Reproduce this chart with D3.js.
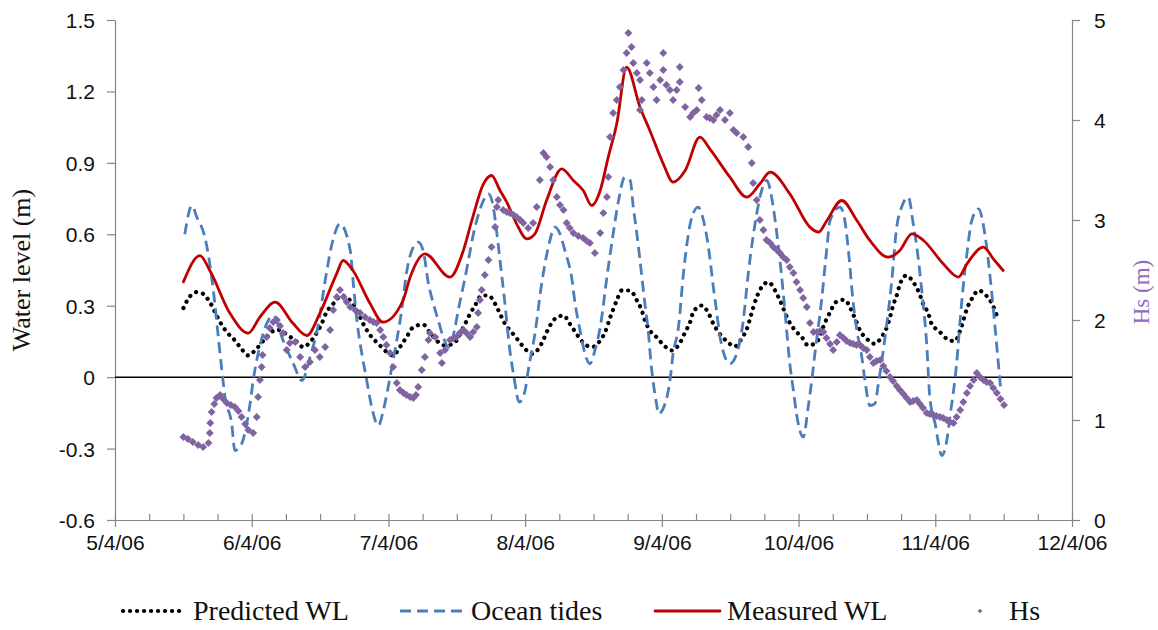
<!DOCTYPE html>
<html lang="en">
<head>
<meta charset="UTF-8">
<title>Water level and Hs</title>
<script src="https://d3js.org/d3.v7.min.js"></script>
<style>
  body { margin: 0; background: #fff; }
  svg { display: block; }
  .axis text { font-family: "Liberation Sans", Arial, sans-serif; font-size: 21px; fill: #111; }
  .axis path, .axis line { stroke: #868686; stroke-width: 1.2; }
  .serif { font-family: "Liberation Serif", "Times New Roman", serif; }
</style>
</head>
<body>
<script>
// time axis runs from 5/4/06 to 12/4/06, data given as days after 5/4/06
const xTickLabels = ["5/4/06", "6/4/06", "7/4/06", "8/4/06", "9/4/06", "10/4/06", "11/4/06", "12/4/06"];
const wlTicks = [-0.6, -0.3, 0, 0.3, 0.6, 0.9, 1.2, 1.5];
const hsTicks = [0, 1, 2, 3, 4, 5];

const predictedDay = [15.3, 16.4, 18.3, 19.7, 21.2, 23.5, 25.0, 26.5, 28.0, 29.8, 31.3, 33.5, 36.2, 37.6, 39.1, 40.6, 42.1, 43.6, 46.2, 47.3, 48.8, 50.7, 52.2, 53.7, 55.9, 57.4, 58.9, 60.8, 62.2, 63.7, 65.2, 66.7, 68.9, 70.4, 71.9, 73.8, 75.6, 78.3, 79.4, 80.5, 82.0, 83.5, 85.0, 86.1, 87.2, 88.7, 90.2, 91.7, 93.2, 94.7, 95.9, 96.9, 98.4, 100.3, 101.7, 103.2, 104.6, 106.6, 108.5, 109.6, 110.5, 112.2, 113.3, 115.2, 116.7, 117.8, 118.5, 119.6, 121.1, 123.0, 124.5, 126.3, 127.5, 128.6, 129.3, 131.2, 132.7, 133.8, 135.1, 136.8, 138.6, 140.1, 141.3, 142.0, 142.7, 143.5, 144.6, 146.1, 147.6, 148.7, 150.6, 152.1, 153.6, 155.0, 156.9, 158.8, 159.9, 161.2, 163.2, 164.5, 165.5, 166.6, 168.1, 169.9, 171.4, 172.6, 173.3, 174.0, 174.8, 175.5, 177.0, 178.5, 179.9, 180.7, 181.9, 182.6, 184.3, 186.0, 187.8, 189.0, 189.7, 190.5, 191.6, 193.1, 194.8, 196.3, 197.2];
const predictedWL = [0.29, 0.33, 0.357, 0.35, 0.315, 0.231, 0.189, 0.161, 0.126, 0.091, 0.112, 0.16, 0.2, 0.19, 0.17, 0.15, 0.126, 0.147, 0.224, 0.273, 0.308, 0.343, 0.329, 0.294, 0.21, 0.168, 0.14, 0.105, 0.091, 0.126, 0.168, 0.21, 0.221, 0.189, 0.154, 0.133, 0.14, 0.224, 0.266, 0.301, 0.343, 0.343, 0.308, 0.266, 0.224, 0.189, 0.154, 0.119, 0.098, 0.119, 0.161, 0.203, 0.245, 0.259, 0.224, 0.182, 0.147, 0.126, 0.154, 0.189, 0.238, 0.322, 0.364, 0.364, 0.322, 0.28, 0.238, 0.196, 0.168, 0.129, 0.112, 0.143, 0.189, 0.231, 0.273, 0.301, 0.269, 0.224, 0.185, 0.151, 0.129, 0.161, 0.203, 0.245, 0.291, 0.336, 0.378, 0.399, 0.364, 0.322, 0.238, 0.196, 0.168, 0.133, 0.147, 0.231, 0.273, 0.315, 0.325, 0.287, 0.245, 0.196, 0.161, 0.14, 0.168, 0.21, 0.252, 0.301, 0.343, 0.389, 0.427, 0.399, 0.35, 0.308, 0.266, 0.224, 0.193, 0.161, 0.151, 0.196, 0.238, 0.287, 0.329, 0.364, 0.343, 0.301, 0.259];

const tidesDay = [15.6, 17.2, 18.3, 20.1, 22.0, 23.1, 23.9, 24.6, 26.1, 26.8, 28.3, 30.2, 30.9, 32.0, 33.9, 35.4, 37.6, 39.9, 41.8, 43.6, 45.5, 47.0, 48.8, 50.3, 52.6, 53.3, 54.1, 55.2, 56.3, 57.4, 58.9, 60.0, 60.8, 61.9, 63.0, 64.1, 65.2, 66.7, 67.8, 68.9, 70.1, 71.2, 72.3, 73.4, 74.6, 77.2, 78.3, 80.5, 82.4, 83.5, 84.6, 85.4, 86.1, 87.2, 88.3, 89.1, 90.4, 91.7, 92.4, 93.9, 95.4, 96.9, 98.4, 99.5, 100.6, 102.1, 102.9, 104.0, 105.1, 106.2, 107.3, 108.5, 110.0, 111.4, 112.6, 114.0, 115.2, 115.9, 116.7, 117.4, 118.5, 119.3, 119.8, 120.4, 121.1, 121.5, 123.0, 124.1, 124.8, 126.0, 127.1, 129.0, 130.4, 131.6, 132.7, 133.8, 134.6, 135.3, 137.5, 139.0, 140.5, 141.6, 143.5, 144.6, 145.7, 147.2, 148.0, 148.7, 149.8, 150.9, 151.7, 152.4, 153.9, 155.0, 155.8, 156.5, 158.0, 159.2, 159.9, 162.1, 163.2, 164.0, 165.1, 165.9, 167.0, 167.7, 168.8, 169.9, 170.7, 172.2, 173.7, 174.8, 175.9, 177.4, 178.5, 179.3, 180.4, 181.5, 182.2, 183.4, 184.9, 186.0, 186.7, 188.2, 189.3, 190.5, 191.6, 193.1, 194.5, 196.0, 197.2, 198.1];
const tidesWL = [0.60, 0.72, 0.672, 0.588, 0.364, 0.168, 0.028, -0.084, -0.196, -0.308, -0.28, -0.112, -0.014, 0.098, 0.224, 0.259, 0.154, 0.056, -0.014, 0.084, 0.224, 0.406, 0.581, 0.644, 0.532, 0.392, 0.238, 0.098, -0.014, -0.126, -0.203, -0.14, -0.07, 0.042, 0.154, 0.28, 0.44, 0.546, 0.567, 0.532, 0.392, 0.308, 0.238, 0.168, 0.125, 0.322, 0.42, 0.63, 0.742, 0.77, 0.714, 0.602, 0.49, 0.308, 0.112, 0.014, -0.105, -0.056, 0.028, 0.182, 0.392, 0.546, 0.63, 0.602, 0.532, 0.42, 0.308, 0.196, 0.098, 0.056, 0.112, 0.21, 0.42, 0.602, 0.742, 0.84, 0.826, 0.714, 0.602, 0.49, 0.308, 0.182, 0.07, -0.028, -0.112, -0.154, -0.112, -0.014, 0.098, 0.21, 0.434, 0.672, 0.714, 0.658, 0.546, 0.378, 0.266, 0.168, 0.056, 0.098, 0.238, 0.434, 0.686, 0.784, 0.826, 0.714, 0.602, 0.49, 0.28, 0.056, -0.056, -0.154, -0.252, -0.126, -0.014, 0.098, 0.322, 0.546, 0.658, 0.714, 0.658, 0.532, 0.308, 0.196, 0.084, -0.014, -0.119, -0.112, -0.028, 0.168, 0.406, 0.63, 0.714, 0.756, 0.644, 0.546, 0.364, 0.14, -0.084, -0.196, -0.329, -0.266, -0.168, 0.056, 0.308, 0.518, 0.658, 0.707, 0.602, 0.364, 0.126, -0.06];

const measuredDay = [15.3, 19.0, 21.2, 25.7, 29.8, 32.4, 35.8, 39.8, 42.9, 45.8, 49.6, 51.0, 53.2, 57.0, 59.9, 64.4, 66.0, 69.3, 74.9, 77.9, 79.8, 82.4, 84.2, 86.1, 87.6, 89.8, 92.1, 93.9, 96.5, 99.9, 102.5, 104.7, 106.6, 108.5, 110.3, 112.2, 114.4, 117.4, 119.6, 122.6, 124.8, 127.5, 130.8, 133.0, 137.5, 141.3, 144.2, 146.5, 150.9, 155.4, 157.3, 159.2, 162.5, 165.9, 168.8, 172.9, 175.5, 178.2, 180.8, 185.2, 188.6, 190.5, 194.2, 196.4, 198.6];
const measuredWL = [0.40, 0.51, 0.448, 0.268, 0.185, 0.252, 0.315, 0.226, 0.175, 0.268, 0.436, 0.49, 0.448, 0.31, 0.231, 0.322, 0.42, 0.518, 0.42, 0.532, 0.658, 0.812, 0.847, 0.784, 0.735, 0.644, 0.581, 0.602, 0.742, 0.875, 0.826, 0.784, 0.721, 0.784, 0.924, 1.064, 1.302, 1.134, 1.036, 0.896, 0.819, 0.868, 1.008, 0.959, 0.84, 0.756, 0.812, 0.861, 0.77, 0.63, 0.609, 0.658, 0.742, 0.658, 0.574, 0.504, 0.532, 0.602, 0.574, 0.476, 0.42, 0.476, 0.546, 0.497, 0.448];

const hsDay = [15.3, 16.3, 17.4, 18.6, 19.7, 20.9, 21.2, 21.3, 21.6, 22.2, 22.7, 23.5, 24.2, 25.0, 25.9, 26.8, 27.6, 28.3, 29.1, 29.8, 30.9, 31.7, 32.0, 32.4, 32.8, 33.0, 33.9, 34.6, 35.4, 36.2, 36.9, 37.6, 38.4, 39.1, 40.3, 41.4, 42.5, 43.6, 44.7, 45.8, 47.0, 48.1, 48.8, 49.6, 50.3, 51.1, 51.8, 52.6, 53.7, 54.8, 55.9, 57.0, 57.8, 58.5, 59.3, 60.0, 60.7, 61.5, 62.2, 63.0, 63.7, 64.5, 65.2, 66.0, 66.7, 67.3, 67.8, 68.6, 69.3, 70.1, 70.4, 71.6, 72.7, 73.1, 73.8, 74.9, 75.7, 76.4, 77.1, 77.9, 78.6, 79.4, 80.1, 80.9, 81.2, 81.6, 82.0, 82.7, 83.5, 84.2, 85.0, 85.4, 85.7, 86.8, 87.6, 88.3, 89.1, 89.8, 90.6, 91.3, 92.4, 93.5, 94.3, 95.0, 95.8, 96.5, 97.3, 98.0, 98.8, 99.5, 100.3, 101.0, 101.7, 102.5, 103.6, 104.7, 105.5, 106.2, 107.3, 108.5, 109.2, 110.0, 110.3, 110.7, 111.4, 112.2, 112.9, 113.7, 114.4, 114.8, 115.5, 115.9, 116.7, 117.4, 117.4, 117.8, 118.9, 119.6, 120.4, 121.1, 121.9, 122.6, 122.6, 123.3, 124.1, 124.8, 125.6, 126.3, 126.3, 127.5, 128.6, 129.3, 130.1, 130.5, 131.2, 132.3, 133.0, 133.8, 134.5, 135.3, 136.4, 137.5, 138.3, 139.0, 140.5, 141.6, 142.4, 142.7, 143.5, 144.2, 145.0, 145.7, 146.5, 147.2, 148.0, 148.7, 149.4, 150.2, 150.9, 151.7, 152.4, 153.2, 153.9, 154.7, 155.4, 156.2, 157.0, 157.7, 158.4, 159.1, 159.9, 160.6, 161.4, 162.1, 162.9, 163.6, 164.4, 165.1, 165.8, 166.6, 167.3, 168.1, 168.8, 169.6, 170.3, 171.1, 171.8, 172.5, 173.3, 174.0, 174.8, 175.5, 176.3, 177.0, 177.8, 178.5, 179.3, 180.0, 180.7, 181.5, 182.2, 183.0, 183.7, 184.5, 185.2, 186.0, 186.7, 187.5, 188.2, 189.0, 189.7, 190.5, 191.2, 192.0, 192.7, 193.4, 194.2, 194.9, 195.7, 196.4, 197.2, 198.0, 198.8];
const hsValue = [0.83, 0.81, 0.78, 0.75, 0.73, 0.77, 0.87, 0.97, 1.08, 1.16, 1.22, 1.25, 1.21, 1.17, 1.15, 1.13, 1.09, 1.03, 0.96, 0.90, 0.87, 1.03, 1.23, 1.40, 1.53, 1.65, 1.83, 1.92, 1.98, 2.00, 1.94, 1.87, 1.70, 1.77, 1.78, 1.63, 1.53, 1.58, 1.70, 1.63, 1.73, 1.90, 2.10, 2.23, 2.30, 2.23, 2.18, 2.13, 2.10, 2.07, 2.03, 2.00, 1.98, 1.97, 1.90, 1.83, 1.75, 1.67, 1.53, 1.37, 1.30, 1.27, 1.25, 1.23, 1.22, 1.25, 1.33, 1.50, 1.63, 1.80, 1.87, 1.83, 1.67, 1.57, 1.70, 1.80, 1.82, 1.83, 1.87, 1.90, 1.87, 1.83, 1.88, 1.93, 2.07, 2.20, 2.30, 2.45, 2.60, 2.73, 2.93, 3.13, 3.20, 3.10, 3.08, 3.07, 3.05, 3.03, 3.00, 2.97, 2.92, 2.97, 3.13, 3.40, 3.67, 3.63, 3.53, 3.40, 3.23, 3.15, 3.10, 2.97, 2.92, 2.87, 2.84, 2.82, 2.79, 2.77, 2.67, 2.87, 3.07, 3.23, 3.43, 3.83, 4.07, 4.20, 4.33, 4.50, 4.67, 4.87, 4.73, 4.57, 4.47, 4.40, 4.10, 4.20, 4.57, 4.47, 4.33, 4.20, 4.40, 4.67, 4.50, 4.35, 4.30, 4.20, 4.30, 4.53, 4.38, 4.13, 4.03, 4.07, 4.10, 4.32, 4.20, 4.03, 4.02, 4.00, 4.05, 4.10, 4.00, 4.07, 3.90, 3.87, 3.83, 3.73, 3.57, 3.37, 3.20, 3.00, 2.90, 2.80, 2.77, 2.73, 2.70, 2.67, 2.63, 2.60, 2.53, 2.47, 2.38, 2.30, 2.22, 2.13, 1.97, 1.88, 1.88, 1.89, 1.88, 1.82, 1.76, 1.70, 1.78, 1.85, 1.82, 1.79, 1.77, 1.76, 1.75, 1.75, 1.72, 1.70, 1.63, 1.57, 1.59, 1.60, 1.54, 1.49, 1.43, 1.39, 1.34, 1.30, 1.26, 1.22, 1.18, 1.19, 1.20, 1.16, 1.12, 1.07, 1.06, 1.05, 1.04, 1.03, 1.02, 1.00, 0.98, 0.97, 1.03, 1.10, 1.18, 1.27, 1.34, 1.40, 1.47, 1.43, 1.40, 1.38, 1.37, 1.32, 1.27, 1.21, 1.15];

const width = 1158, height = 630;
const plot = { left: 115, right: 1072, top: 20, bottom: 520 };

const DAY = 864e5;
const t0 = Date.UTC(2006, 4, 4);
const t1 = Date.UTC(2006, 11, 4);
const toDate = d => new Date(t0 + d * DAY);
const pairs = (days, vals) => days.map((d, i) => ({ t: toDate(d), v: vals[i] }));

const predicted = pairs(predictedDay, predictedWL);
const tides = pairs(tidesDay, tidesWL);
const measured = pairs(measuredDay, measuredWL);
const hs = pairs(hsDay, hsValue);

const x = d3.scaleUtc().domain([new Date(t0), new Date(t1)]).range([plot.left, plot.right]);
const yWL = d3.scaleLinear().domain([-0.6, 1.5]).range([plot.bottom, plot.top]);
const yHs = d3.scaleLinear().domain([0, 5]).range([plot.bottom, plot.top]);

const svg = d3.select("body").append("svg")
    .attr("width", width)
    .attr("height", height);

// major ticks split the span evenly, 4 minor steps per major
const majorTicks = d3.range(xTickLabels.length).map(i => new Date(t0 + i * (t1 - t0) / (xTickLabels.length - 1)));
const minorTicks = d3.range(29).filter(i => i % 4 !== 0).map(i => new Date(t0 + i * (t1 - t0) / 28));

// minor ticks (inside)
svg.append("g")
    .attr("class", "axis")
    .attr("transform", `translate(0,${plot.bottom})`)
    .call(d3.axisBottom(x).tickValues(minorTicks).tickSizeInner(-6).tickSizeOuter(0).tickFormat(""))
    .call(g => g.select(".domain").remove());

const xAxis = svg.append("g")
    .attr("class", "axis")
    .attr("transform", `translate(0,${plot.bottom})`)
    .call(d3.axisBottom(x).tickValues(majorTicks).tickSizeOuter(0).tickPadding(16)
        .tickFormat((d, i) => xTickLabels[i]));
xAxis.selectAll(".tick line").attr("y1", -6).attr("y2", 7);

svg.append("g")
    .attr("class", "axis")
    .attr("transform", `translate(${plot.left},0)`)
    .call(d3.axisLeft(yWL).tickValues(wlTicks).tickSize(8).tickSizeOuter(0).tickPadding(12)
        .tickFormat(d => d === 0 ? "0" : d.toFixed(1)));

svg.append("g")
    .attr("class", "axis")
    .attr("transform", `translate(${plot.right},0)`)
    .call(d3.axisRight(yHs).tickValues(hsTicks).tickSize(8).tickSizeOuter(0).tickPadding(14)
        .tickFormat(d3.format("d")));

svg.selectAll(".axis .tick text").attr("dy", "0.36em");

// zero line
svg.append("line")
    .attr("x1", plot.left).attr("x2", plot.right)
    .attr("y1", yWL(0)).attr("y2", yWL(0))
    .attr("stroke", "#000").attr("stroke-width", 1.5);

// axis titles
svg.append("text")
    .attr("class", "serif")
    .attr("transform", `translate(30,${yWL(0.45)}) rotate(-90)`)
    .attr("text-anchor", "middle")
    .attr("font-size", 26)
    .attr("fill", "#111")
    .text("Water level (m)");

svg.append("text")
    .attr("class", "serif")
    .attr("transform", `translate(1149,${yHs(2.28)}) rotate(-90)`)
    .attr("text-anchor", "middle")
    .attr("font-size", 23)
    .attr("fill", "#8f6cc0")
    .text("Hs (m)");

const line = yScale => d3.line()
    .x(d => x(d.t))
    .y(d => yScale(d.v))
    .curve(d3.curveMonotoneX);

const styles = {
    predicted: { stroke: "#000", width: 4.2, dash: "0.1 6.9", cap: "round" },
    tides: { stroke: "#4A7EBB", width: 2.8, dash: "11 6", cap: "butt" },
    measured: { stroke: "#C00000", width: 2.8, dash: null, cap: "round" }
};

function drawLine(data, s) {
    svg.append("path")
        .datum(data)
        .attr("fill", "none")
        .attr("stroke", s.stroke)
        .attr("stroke-width", s.width)
        .attr("stroke-dasharray", s.dash)
        .attr("stroke-linecap", s.cap)
        .attr("stroke-linejoin", "round")
        .attr("d", line(yWL));
}

drawLine(predicted, styles.predicted);
drawLine(tides, styles.tides);
drawLine(measured, styles.measured);

const diamond = d3.symbol().type(d3.symbolDiamond2 || d3.symbolDiamond).size(40);

svg.append("g")
    .selectAll("path")
    .data(hs)
    .join("path")
    .attr("transform", d => `translate(${x(d.t)},${yHs(d.v)})`)
    .attr("d", diamond)
    .attr("fill", "#8064A2");

// legend
const legendY = 611;
const legend = svg.append("g");

function legendLine(x1, x2, s) {
    legend.append("line")
        .attr("x1", x1).attr("x2", x2)
        .attr("y1", legendY).attr("y2", legendY)
        .attr("stroke", s.stroke)
        .attr("stroke-width", s.width)
        .attr("stroke-dasharray", s.dash)
        .attr("stroke-linecap", s.cap);
}
function legendText(x0, label) {
    legend.append("text")
        .attr("class", "serif")
        .attr("x", x0).attr("y", legendY + 9)
        .attr("font-size", 28)
        .attr("fill", "#111")
        .text(label);
}

legendLine(123, 186, styles.predicted);
legendText(193, "Predicted WL");
legendLine(400, 468, styles.tides);
legendText(471, "Ocean tides");
legendLine(655, 720, styles.measured);
legendText(727, "Measured WL");
legend.append("path")
    .attr("transform", `translate(980,${legendY})`)
    .attr("d", d3.symbol().type(d3.symbolDiamond2 || d3.symbolDiamond).size(14))
    .attr("fill", "#8064A2");
legendText(1009, "Hs");
</script>
</body>
</html>
